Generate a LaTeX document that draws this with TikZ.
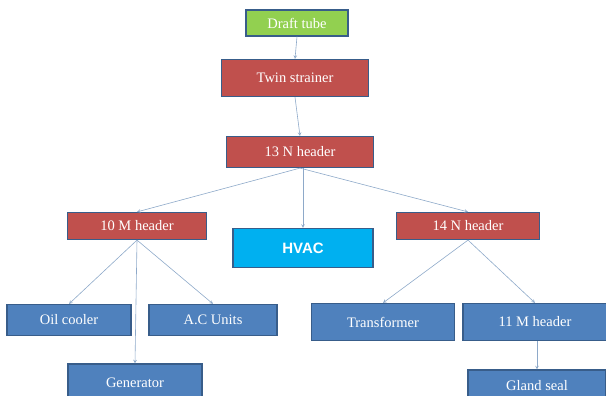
\documentclass[tikz,border=0pt]{standalone}
\usepackage{fontspec}
\setmainfont{Liberation Serif}
\newfontfamily\hvacfont{Liberation Sans}
\definecolor{boxgreen}{HTML}{92D050}
\definecolor{boxred}{HTML}{C0504D}
\definecolor{boxblue}{HTML}{4F81BD}
\definecolor{boxcyan}{HTML}{00B0F0}
\definecolor{boxedge}{HTML}{385D8A}
\definecolor{linkblue}{HTML}{8EA9C9}
\begin{document}
\begin{tikzpicture}
[x=1pt, y=1pt, font=\fontsize{14.5}{16}\selectfont, line width=1.2pt,
source/.style={rectangle, draw=boxedge, fill=boxgreen, text=white, inner sep=0pt, minimum width=102, minimum height=26},
header/.style={rectangle, draw=boxedge, fill=boxred, text=white, inner sep=0pt, minimum height=29},
consumer/.style={rectangle, draw=boxedge, fill=boxblue, text=white, inner sep=0pt, minimum height=32},
hvacbox/.style={rectangle, draw=boxedge, fill=boxcyan, text=white, inner sep=0pt, minimum width=140, minimum height=39, font=\hvacfont\bfseries\fontsize{15}{17}\selectfont},
link/.style={->, draw=linkblue, line width=0.6pt, >=stealth}]

\clip (0,0) rectangle (606,-396);
\useasboundingbox (0,0) rectangle (606,-396);

\node[source] (draft) at (297,-23) {Draft tube};
\node[header, minimum width=147, minimum height=37] (strainer) at (295,-78) {Twin strainer};
\node[header, minimum width=147, minimum height=31] (h13n) at (300,-152) {13 N header};

\node[header, minimum width=139, minimum height=27] (h10m) at (137,-226) {10 M header};
\node[hvacbox] (hvac) at (303,-248) {HVAC};
\node[header, minimum width=143, minimum height=27] (h14n) at (468,-226) {14 N header};

\node[consumer, minimum width=124, minimum height=31] (oil) at (69,-320) {Oil cooler};
\node[consumer, minimum width=128, minimum height=31] (acu) at (213,-320) {A.C Units};
\node[consumer, minimum width=134, minimum height=38] (gen) at (135,-383) {Generator};
\node[consumer, minimum width=143, minimum height=37] (trafo) at (383,-322) {Transformer};
\node[consumer, minimum width=144, minimum height=37] (h11m) at (535,-322) {11 M header};
\node[consumer, minimum width=138, minimum height=32] (gland) at (537,-386) {Gland seal};

\draw[link] (draft.south) -- (strainer.north);
\draw[link] (strainer.south) -- (h13n.north);
\draw[link] (h13n.south) -- (h10m.north);
\draw[link] (h13n.south -| hvac.north) -- (hvac.north);
\draw[link] (h13n.south) -- (h14n.north);
\draw[link] (h10m.south) -- (oil.north);
\draw[link] (h10m.south) -- (gen.north);
\draw[link] (h10m.south) -- (acu.north);
\draw[link] (h14n.south) -- (trafo.north);
\draw[link] (h14n.south) -- (h11m.north);
\draw[link] (h11m.south -| gland.north) -- (gland.north);
\end{tikzpicture}
\end{document}
